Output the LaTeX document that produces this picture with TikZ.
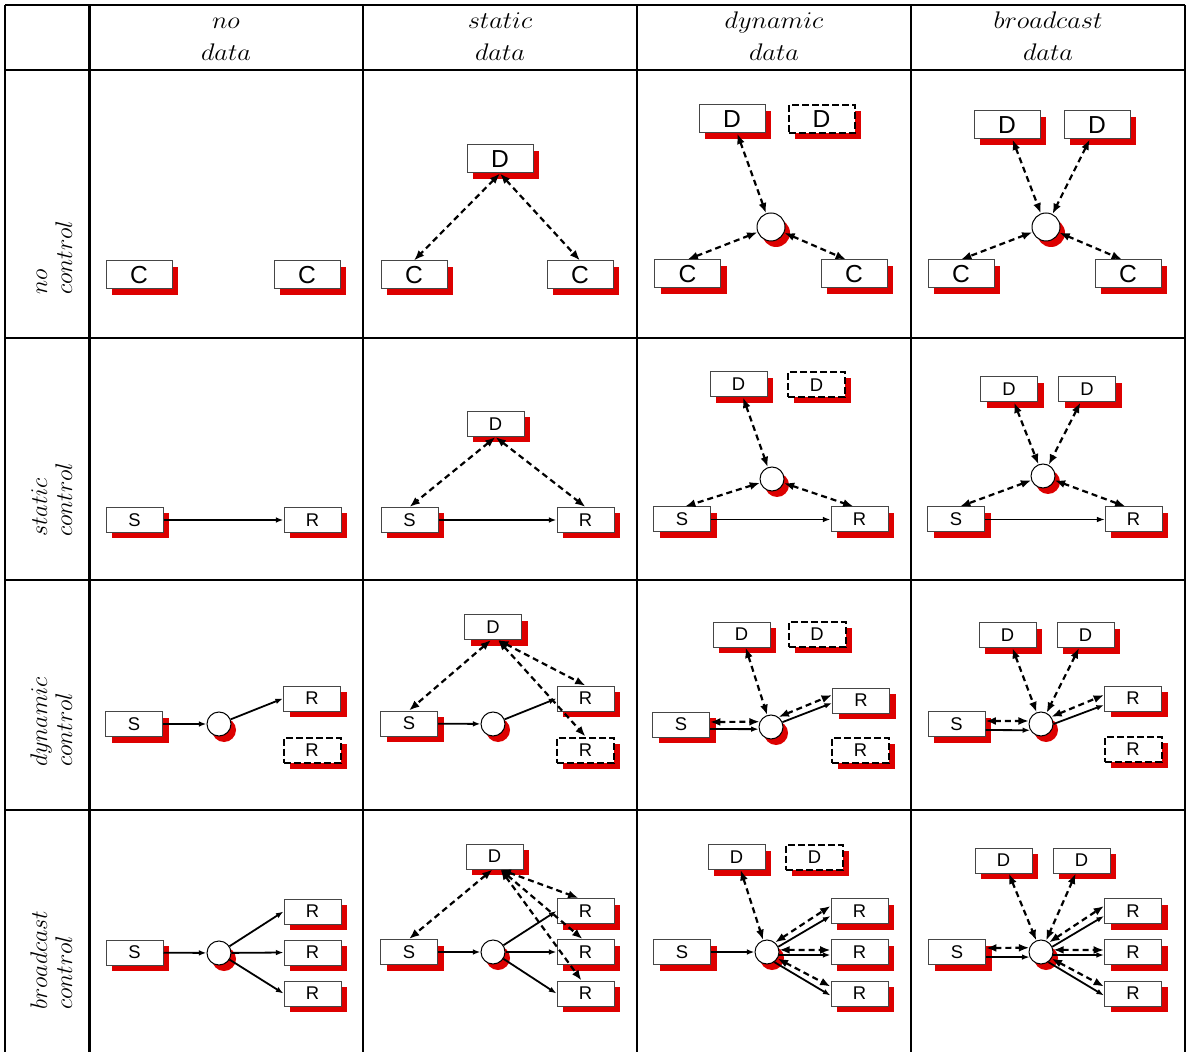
\documentclass[tikz,border=0pt]{standalone}
\usepackage{graphicx}
\usepackage{fontspec}
\newfontfamily\boxfont{Liberation Sans}
\usetikzlibrary{arrows.meta,shadows}
\definecolor{shred}{RGB}{221,0,0}
\definecolor{bord}{RGB}{70,70,70}
\tikzset{
 basebox/.style={rectangle, draw=bord, line width=0.5pt, fill=white, inner sep=0pt,
   drop shadow={shadow xshift=3pt, shadow yshift=-3pt, fill=shred, opacity=1, draw=none}},
 bigbox/.style={basebox, minimum width=33pt, minimum height=14pt, font=\boxfont\fontsize{12.3}{12}\selectfont},
 smallbox/.style={basebox, minimum width=28.5pt, minimum height=12.5pt, font=\boxfont\fontsize{9.2}{9}\selectfont},
 ghost/.style={draw=black, line width=1pt, dash pattern=on 3.5pt off 1.5pt},
 hub/.style={circle, draw=black, line width=0.5pt, fill=white, inner sep=0pt, minimum size=12pt,
   drop shadow={shadow xshift=2.5pt, shadow yshift=-3pt, fill=shred, opacity=1, draw=none}},
 bighub/.style={hub, minimum size=14pt},
 dlink/.style={line width=1.1pt, dash pattern=on 3pt off 2pt, {Latex[length=5.2pt,width=4pt]}-{Latex[length=5.2pt,width=4pt]}},
 slink/.style={line width=0.9pt, -{Latex[length=3.8pt,width=2.8pt]}},
 gridline/.style={line width=1pt},
 head/.style={font=\fontsize{12}{12}\selectfont, inner sep=0pt, anchor=base},
 rowlab/.style={font=\fontsize{13}{13}\selectfont, inner sep=0pt, rotate=90, anchor=base west},
}
\begin{document}
\begin{tikzpicture}[x=0.5pt,y=-0.5pt]
\useasboundingbox (0,0) rectangle (1187,1052);
% grid
\draw[gridline] (5,5) -- (1184.5,5);
\draw[gridline] (5,70) -- (1184.5,70);
\draw[gridline] (5,338) -- (1184.5,338);
\draw[gridline] (5,580) -- (1184.5,580);
\draw[gridline] (5,810) -- (1184.5,810);
\draw[gridline] (5,5) -- (5,1052);
\draw[gridline, line width=1.5pt] (89,5) -- (89,1052);
\draw[gridline] (363,5) -- (363,1052);
\draw[gridline] (637,5) -- (637,1052);
\draw[gridline] (911,5) -- (911,1052);
\draw[gridline] (1184.5,5) -- (1184.5,1052);
% headers
\node[head] (h1a) at (226,29) {\scalebox{1.1}[1]{$no$}};
\node[head] (h1b) at (226,61) {\scalebox{1.1}[1]{$data$}};
\node[head] (h2a) at (500,29) {\scalebox{1.1}[1]{$static$}};
\node[head] (h2b) at (500,61) {\scalebox{1.1}[1]{$data$}};
\node[head] (h3a) at (774,29) {\scalebox{1.1}[1]{$dynamic$}};
\node[head] (h3b) at (774,61) {\scalebox{1.1}[1]{$data$}};
\node[head] (h4a) at (1048,29) {\scalebox{1.1}[1]{$broadcast$}};
\node[head] (h4b) at (1048,61) {\scalebox{1.1}[1]{$data$}};
% row labels
\node[rowlab] (l1a) at (47,295) {$no$};
\node[rowlab] (l1b) at (72,295) {$control$};
\node[rowlab] (l2a) at (47,537) {$static$};
\node[rowlab] (l2b) at (72,537) {$control$};
\node[rowlab] (l3a) at (47,767) {$dynamic$};
\node[rowlab] (l3b) at (72,767) {$control$};
\node[rowlab] (l4a) at (47,1010) {$broadcast$};
\node[rowlab] (l4b) at (72,1010) {$control$};

% ---------- row 1 ----------
\node[bigbox] (c11a) at (139,275) {C};
\node[bigbox] (c11b) at (307,275) {C};

\node[bigbox] (d12) at (500,159) {D};
\node[bigbox] (c12a) at (414,275) {C};
\node[bigbox] (c12b) at (580,275) {C};
\draw[dlink] (d12.south) -- (c12a.north);
\draw[dlink] (d12.south) -- (c12b.north);

\node[bigbox] (d13a) at (732,119) {D};
\node[bigbox,ghost] (d13b) at (821.5,119) {D};
\node[bighub] (o13) at (771,227) {};
\node[bigbox] (c13a) at (687.5,274) {C};
\node[bigbox] (c13b) at (854,274) {C};
\draw[dlink] (d13a) -- (o13);
\draw[dlink] (o13) -- (c13a.north);
\draw[dlink] (o13) -- ([xshift=-4pt]c13b.north);

\node[bigbox] (d14a) at (1007,125) {D};
\node[bigbox] (d14b) at (1097,125) {D};
\node[bighub] (o14) at (1046,227) {};
\node[bigbox] (c14a) at (961,274) {C};
\node[bigbox] (c14b) at (1128,274) {C};
\draw[dlink] (d14a) -- (o14);
\draw[dlink] (d14b) -- (o14);
\draw[dlink] (o14) -- (c14a.north);
\draw[dlink] (o14) -- ([xshift=-3pt]c14b.north);

% ---------- row 2 ----------
\node[smallbox] (s21) at (134.5,520) {S};
\node[smallbox] (r21) at (312.5,520) {R};
\draw[slink] (s21) -- (r21);

\node[smallbox] (d22) at (495.5,424) {D};
\node[smallbox] (s22) at (409.5,520) {S};
\node[smallbox] (r22) at (585.5,520) {R};
\draw[slink] (s22) -- (r22);
\draw[dlink] (d22.south) -- (s22.north);
\draw[dlink] (d22.south) -- (r22.north);

\node[smallbox] (d23a) at (738.5,384.5) {D};
\node[smallbox,ghost] (d23b) at (816.5,385) {D};
\node[hub] (o23) at (772,479) {};
\node[smallbox] (s23) at (682,519.5) {S};
\node[smallbox] (r23) at (859.5,519.5) {R};
\draw[slink] (s23) -- (r23);
\draw[dlink] (d23a) -- (o23);
\draw[dlink] (o23) -- ([xshift=1.5pt]s23.north);
\draw[dlink] (o23) -- ([xshift=-3pt]r23.north);

\node[smallbox] (d24a) at (1009,389.5) {D};
\node[smallbox] (d24b) at (1087,389.5) {D};
\node[hub] (o24) at (1043,476) {};
\node[smallbox] (s24) at (956,519.5) {S};
\node[smallbox] (r24) at (1133.5,519.5) {R};
\draw[slink, line width=0.5pt] (s24) -- (r24);
\draw[dlink] (d24a) -- (o24);
\draw[dlink] (d24b) -- (o24);
\draw[dlink] (o24) -- ([xshift=2pt]s24.north);
\draw[dlink] (o24) -- ([xshift=-4pt]r24.north);

% ---------- row 3 ----------
\node[smallbox] (s31) at (134,724) {S};
\node[hub] (o31) at (219,724) {};
\node[smallbox] (r31a) at (312,698.5) {R};
\node[smallbox,ghost] (r31b) at (312,750) {R};
\draw[slink] (s31) -- (o31);
\draw[slink] (o31) -- (r31a.west);

\node[smallbox] (d32) at (493,627) {D};
\node[smallbox] (s32) at (409,723.5) {S};
\node[hub] (o32) at (493,724) {};
\node[smallbox] (r32a) at (585.5,698.5) {R};
\node[smallbox,ghost] (r32b) at (585.5,750) {R};
\draw[slink] (s32) -- (o32);
\draw[slink] (o32) -- (r32a.west);
\draw[dlink] ([xshift=-1pt]d32.south) -- (s32.north);
\draw[dlink] ([xshift=2.5pt]d32.south) -- (r32a.north);
\draw[dlink] ([xshift=2.5pt]d32.south) -- (r32b.north);

\node[smallbox] (d33a) at (741.5,634.5) {D};
\node[smallbox,ghost] (d33b) at (817,634.5) {D};
\node[smallbox] (s33) at (681,724.5) {S};
\node[hub] (o33) at (771,727) {};
\node[smallbox] (r33a) at (861,700.5) {R};
\node[smallbox,ghost] (r33b) at (860.5,750) {R};
\draw[dlink] (d33a) -- (o33);
\draw[dlink] ([yshift=1.25pt]s33.east) -- (o33.155);
\draw[slink] ([yshift=-2.25pt]s33.east) -- (o33.190);
\draw[dlink] (o33.53) -- ([yshift=2.75pt]r33a.west);
\draw[slink] (o33.23) -- ([yshift=-1.25pt]r33a.west);

\node[smallbox] (d34a) at (1007.5,635) {D};
\node[smallbox] (d34b) at (1085.5,635) {D};
\node[smallbox] (s34) at (956.5,724) {S};
\node[hub] (o34) at (1041,724) {};
\node[smallbox] (r34a) at (1133,698.5) {R};
\node[smallbox,ghost] (r34b) at (1133,749.5) {R};
\draw[dlink] (d34a) -- (o34);
\draw[dlink] (d34b) -- (o34);
\draw[dlink] ([yshift=1.5pt]s34.east) -- (o34.166);
\draw[slink] ([yshift=-3pt]s34.east) -- (o34.210);
\draw[dlink] (o34.35) -- ([yshift=1.75pt]r34a.west);
\draw[slink] (o34.0) -- ([yshift=-3.25pt]r34a.west);

% ---------- row 4 ----------
\node[smallbox] (s41) at (134.5,952.5) {S};
\node[hub] (o41) at (219,953) {};
\node[smallbox] (r41a) at (312.5,911.5) {R};
\node[smallbox] (r41b) at (312.5,952.5) {R};
\node[smallbox] (r41c) at (312.5,993.5) {R};
\draw[slink] (s41) -- (o41);
\draw[slink] (o41) -- (r41a.west);
\draw[slink] (o41) -- (r41b.west);
\draw[slink] (o41) -- (r41c.west);

\node[smallbox] (d42) at (494.5,856.5) {D};
\node[smallbox] (s42) at (409,952) {S};
\node[hub] (o42) at (493,952) {};
\node[smallbox] (r42a) at (585.5,911) {R};
\node[smallbox] (r42b) at (585.5,952) {R};
\node[smallbox] (r42c) at (585.5,993.5) {R};
\draw[slink] (s42) -- (o42);
\draw[slink] (o42) -- (r42a.west);
\draw[slink] (o42) -- (r42b.west);
\draw[slink] (o42) -- (r42c.west);
\draw[dlink] ([xshift=-1pt]d42.south) -- (s42.north);
\draw[dlink] ([xshift=3pt]d42.south) -- ([xshift=-3.5pt]r42a.north);
\draw[dlink] ([xshift=3pt]d42.south) -- ([xshift=-1.5pt]r42b.north);
\draw[dlink] ([xshift=3pt]d42.south) -- ([xshift=-2pt]r42c.north);

\node[smallbox] (d43a) at (736.5,857) {D};
\node[smallbox,ghost] (d43b) at (814.5,857) {D};
\node[smallbox] (s43) at (682,952) {S};
\node[hub] (o43) at (767,952) {};
\node[smallbox] (r43a) at (859.5,911) {R};
\node[smallbox] (r43b) at (859.5,952) {R};
\node[smallbox] (r43c) at (859.5,993.5) {R};
\draw[dlink] (d43a) -- (o43);
\draw[slink] (s43) -- (o43);
\draw[dlink] (o43.50) -- ([yshift=2.5pt]r43a.west);
\draw[slink] (o43.25) -- ([yshift=-2.5pt]r43a.west);
\draw[dlink] (o43.10) -- ([yshift=1pt]r43b.west);
\draw[slink] (o43.-14) -- ([yshift=-1.5pt]r43b.west);
\draw[dlink] (o43.-32) -- ([yshift=3.5pt]r43c.west);
\draw[slink] (o43.-54) -- ([yshift=-1pt]r43c.west);

\node[smallbox] (d44a) at (1003.5,860.5) {D};
\node[smallbox] (d44b) at (1081.5,860.5) {D};
\node[smallbox] (s44) at (957,952) {S};
\node[hub] (o44) at (1041,952) {};
\node[smallbox] (r44a) at (1133,911) {R};
\node[smallbox] (r44b) at (1133,952) {R};
\node[smallbox] (r44c) at (1133,993.5) {R};
\draw[dlink] (d44a) -- (o44);
\draw[dlink] (d44b) -- (o44);
\draw[dlink] ([yshift=2pt]s44.east) -- (o44.160);
\draw[slink] ([yshift=-2.5pt]s44.east) -- (o44.204);
\draw[dlink] (o44.50) -- ([yshift=2.5pt]r44a.west);
\draw[slink] (o44.25) -- ([yshift=-2.5pt]r44a.west);
\draw[dlink] (o44.10) -- ([yshift=1pt]r44b.west);
\draw[slink] (o44.-14) -- ([yshift=-1.5pt]r44b.west);
\draw[dlink] (o44.-32) -- ([yshift=3.5pt]r44c.west);
\draw[slink] (o44.-54) -- ([yshift=-1pt]r44c.west);
\end{tikzpicture}
\end{document}
